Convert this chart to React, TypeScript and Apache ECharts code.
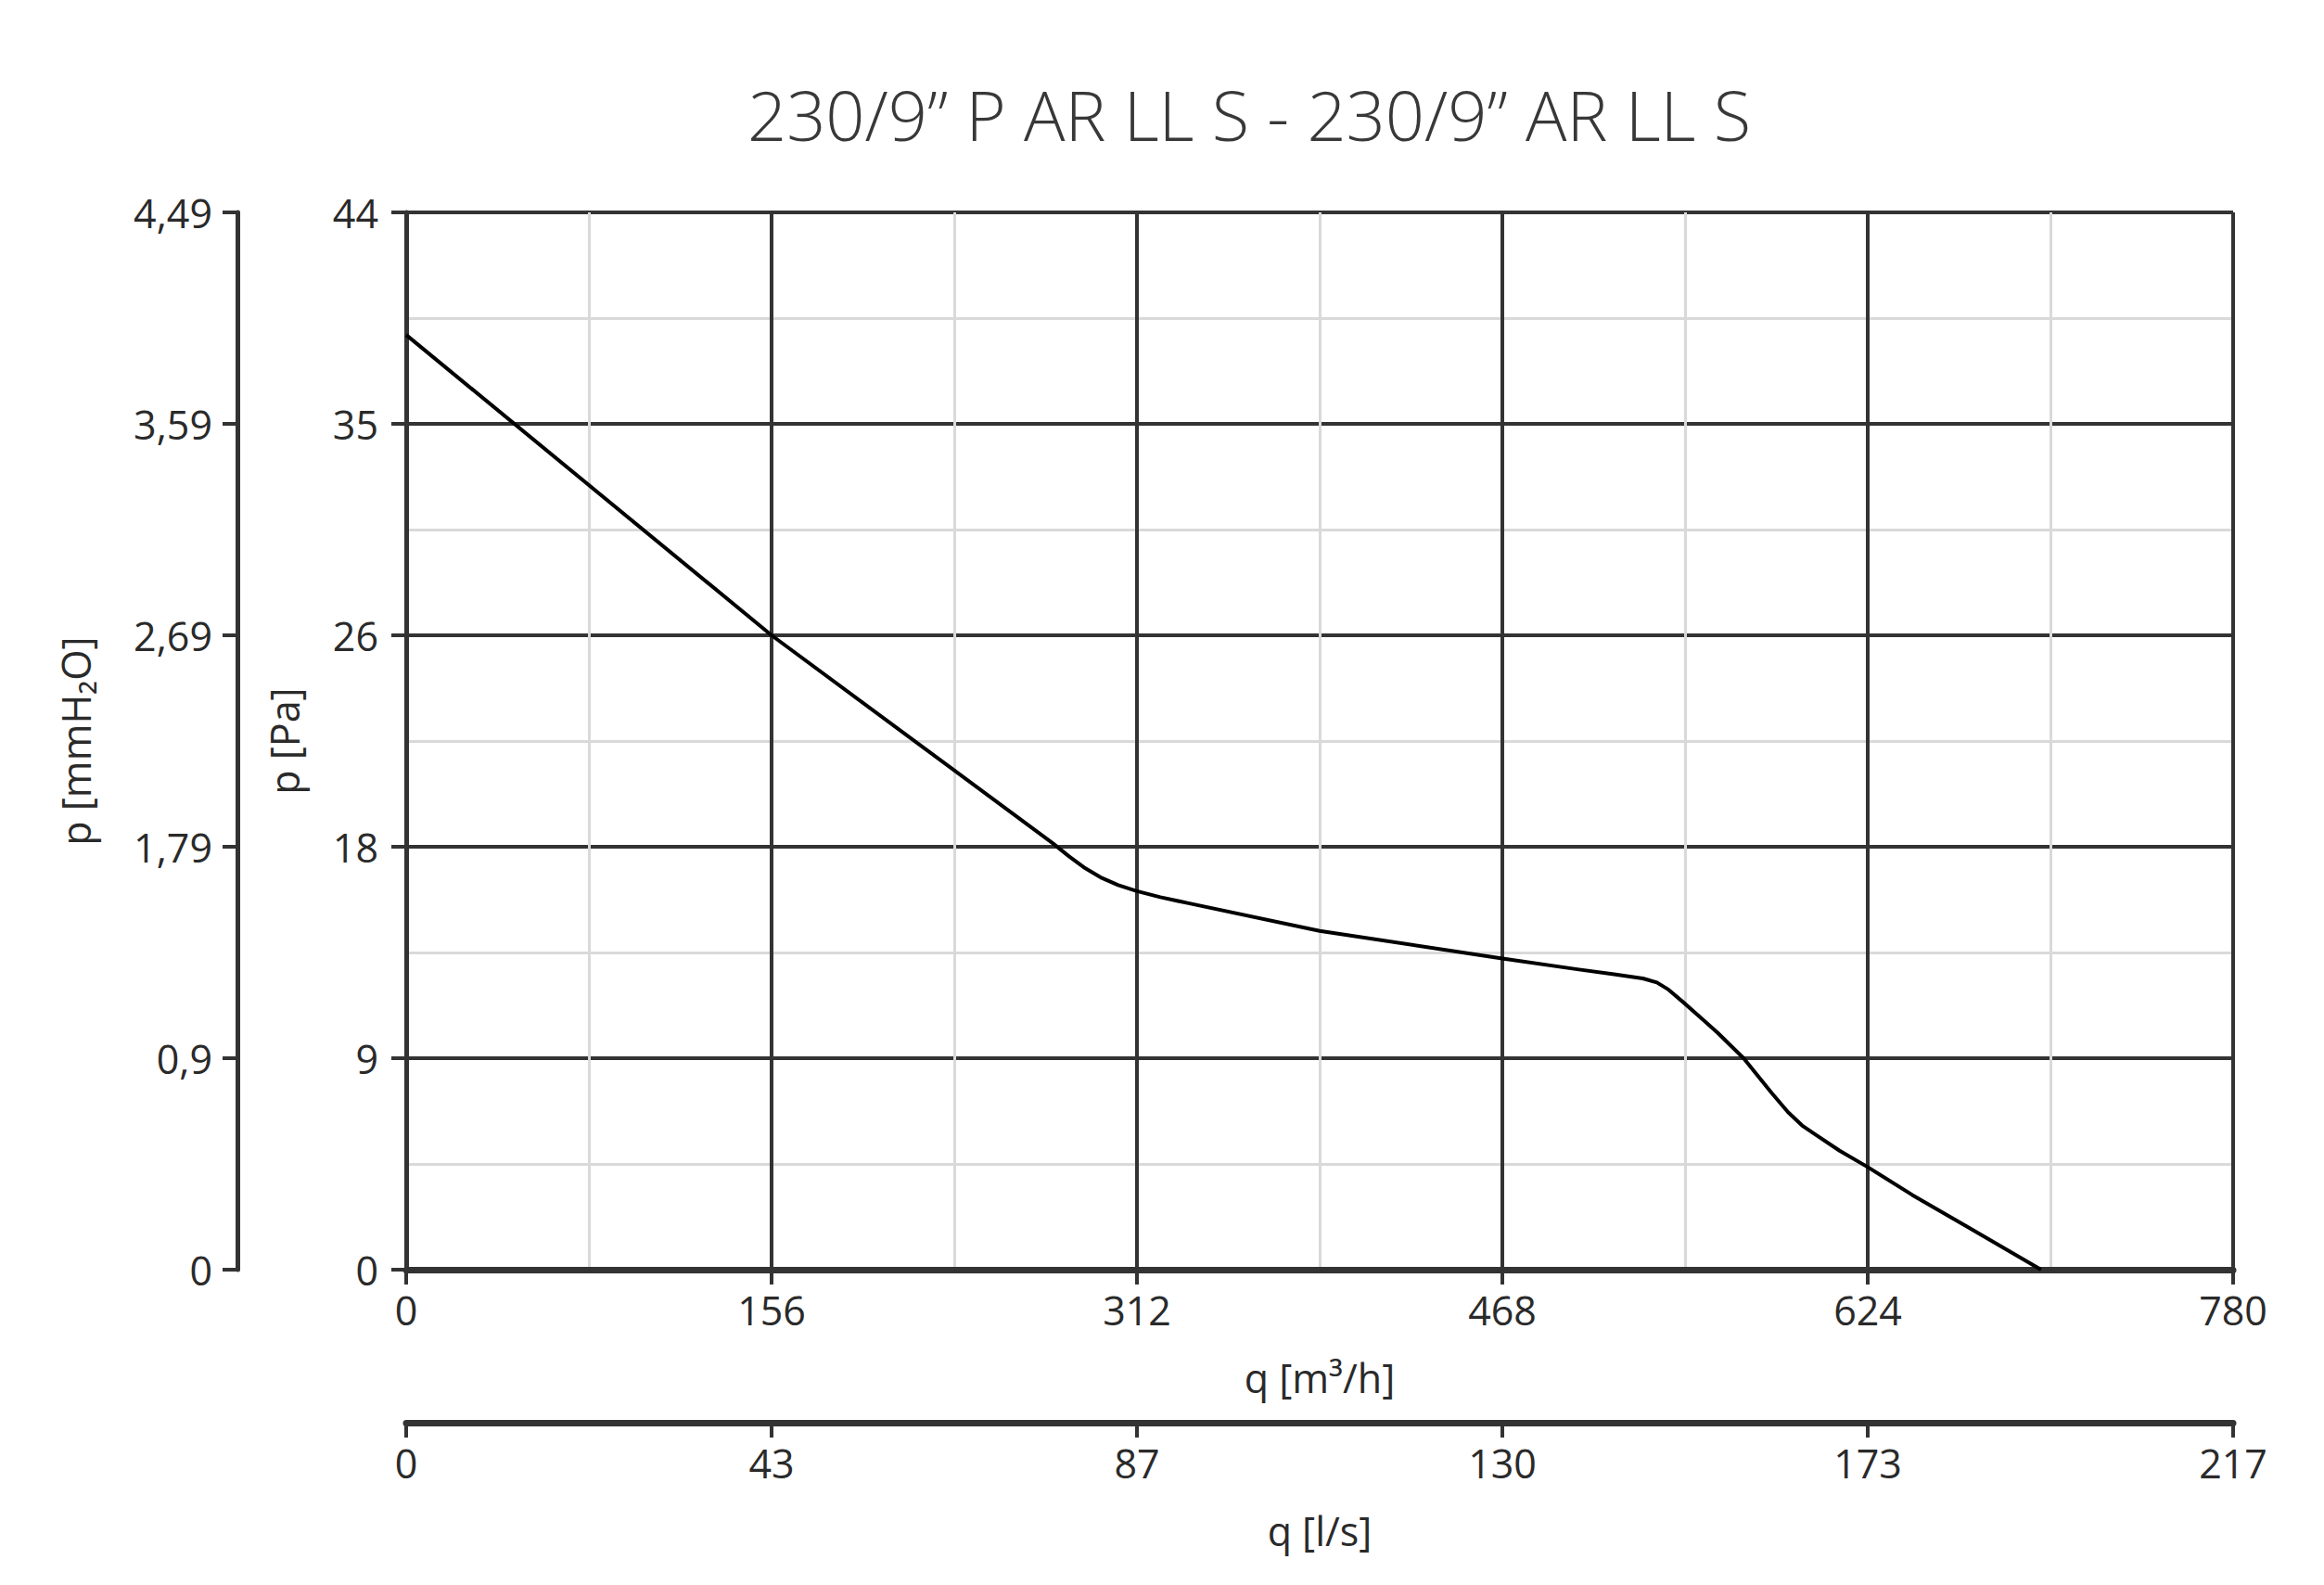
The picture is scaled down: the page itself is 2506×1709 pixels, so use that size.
import React, { useEffect, useRef } from "react";
import * as echarts from "echarts";

const titleText = "230/9\u201D P AR LL S - 230/9\u201D AR LL S";

// Curve: flow q [m³/h] vs static pressure p [Pa]
const qM3h = [0, 156, 276, 283, 290, 297, 304, 312, 322, 334, 390, 468, 500, 515, 528, 534, 539, 545, 552, 560, 571, 583, 590, 596, 602, 612, 624, 643, 666, 698];
const pPa = [38.9, 26.4, 17.75, 17.2, 16.7, 16.3, 16.0, 15.75, 15.5, 15.25, 14.1, 12.95, 12.5, 12.3, 12.12, 11.95, 11.65, 11.15, 10.55, 9.85, 8.8, 7.35, 6.55, 6.0, 5.6, 4.95, 4.27, 3.11, 1.81, 0];

// Tick labels
const xTicksM3h = ["0", "156", "312", "468", "624", "780"];
const xTicksLs = ["0", "43", "87", "130", "173", "217"];
const yTicksPa = ["0", "9", "18", "26", "35", "44"];
const yTicksMm = ["0", "0,9", "1,79", "2,69", "3,59", "4,49"];

const X_MAX = 780;
const X_STEP = 156;
const Y_MAX = 44;
const Y_STEP = 8.8;

const FONT = "'Open Sans', 'DejaVu Sans', sans-serif";
const DARK = "#333333";
const LABEL = "#2a2a2a";

export default function App() {
  const ref = useRef<HTMLDivElement>(null);

  useEffect(() => {
    if (!ref.current) return;
    const chart = echarts.init(ref.current, undefined, { renderer: "svg" });

    const labelStyle = { fontSize: 43, color: LABEL, fontFamily: FONT };
    const nameStyle = { fontSize: 43, color: LABEL, fontFamily: FONT };

    chart.setOption({
      animation: false,
      backgroundColor: "#ffffff",
      graphic: [
        {
          type: "text",
          x: 1347,
          y: 123,
          style: {
            text: titleText,
            fontSize: 74,
            fontFamily: FONT,
            fontWeight: 300,
            fill: "#383838",
            align: "center",
            verticalAlign: "middle",
          },
        },
      ],
      grid: { left: 438, top: 229, width: 1970, height: 1140, containLabel: false },
      xAxis: [
        {
          type: "value",
          min: 0,
          max: X_MAX,
          interval: X_STEP,
          position: "bottom",
          axisLine: { show: true, onZero: false, lineStyle: { color: DARK, width: 7 } },
          axisTick: { show: true, length: 16, lineStyle: { color: DARK, width: 4 } },
          axisLabel: {
            ...labelStyle,
            margin: 22,
            formatter: (v: number) => xTicksM3h[Math.round(v / X_STEP)] ?? "",
          },
          splitLine: { show: true, lineStyle: { color: DARK, width: 4 } },
          minorTick: { show: false, splitNumber: 2 },
          minorSplitLine: { show: true, lineStyle: { color: "#d9d9d9", width: 3 } },
          name: "q [m³/h]",
          nameLocation: "middle",
          nameGap: 95,
          nameTextStyle: nameStyle,
        },
        {
          type: "value",
          min: 0,
          max: X_MAX,
          interval: X_STEP,
          position: "bottom",
          offset: 165,
          axisLine: { show: true, onZero: false, lineStyle: { color: DARK, width: 7 } },
          axisTick: { show: true, length: 16, lineStyle: { color: DARK, width: 4 } },
          axisLabel: {
            ...labelStyle,
            margin: 22,
            formatter: (v: number) => xTicksLs[Math.round(v / X_STEP)] ?? "",
          },
          splitLine: { show: false },
          name: "q [l/s]",
          nameLocation: "middle",
          nameGap: 95,
          nameTextStyle: nameStyle,
        },
      ],
      yAxis: [
        {
          type: "value",
          min: 0,
          max: Y_MAX,
          interval: Y_STEP,
          position: "left",
          axisLine: { show: true, onZero: false, lineStyle: { color: DARK, width: 5 } },
          axisTick: { show: true, length: 16, lineStyle: { color: DARK, width: 4 } },
          axisLabel: {
            ...labelStyle,
            margin: 30,
            formatter: (v: number) => yTicksPa[Math.round(v / Y_STEP)] ?? "",
          },
          splitLine: { show: true, lineStyle: { color: DARK, width: 4 } },
          minorTick: { show: false, splitNumber: 2 },
          minorSplitLine: { show: true, lineStyle: { color: "#d9d9d9", width: 3 } },
          name: "p [Pa]",
          nameLocation: "middle",
          nameGap: 110,
          nameRotate: 90,
          nameTextStyle: nameStyle,
        },
        {
          type: "value",
          min: 0,
          max: Y_MAX,
          interval: Y_STEP,
          position: "left",
          offset: 182,
          axisLine: { show: true, onZero: false, lineStyle: { color: DARK, width: 5 } },
          axisTick: { show: true, length: 16, lineStyle: { color: DARK, width: 4 } },
          axisLabel: {
            ...labelStyle,
            margin: 27,
            formatter: (v: number) => yTicksMm[Math.round(v / Y_STEP)] ?? "",
          },
          splitLine: { show: false },
          name: "p [mmH₂O]",
          nameLocation: "middle",
          nameGap: 153,
          nameRotate: 90,
          nameTextStyle: nameStyle,
        },
      ],
      series: [
        {
          type: "line",
          xAxisIndex: 0,
          yAxisIndex: 0,
          data: qM3h.map((q, i) => [q, pPa[i]]),
          showSymbol: false,
          smooth: false,
          lineStyle: { color: "#000000", width: 4, join: "round" },
          z: 5,
        },
      ],
    });

    return () => chart.dispose();
  }, []);

  return (
    <div
      ref={ref}
      style={{ position: "absolute", left: 0, top: 0, width: 2506, height: 1709 }}
    />
  );
}
